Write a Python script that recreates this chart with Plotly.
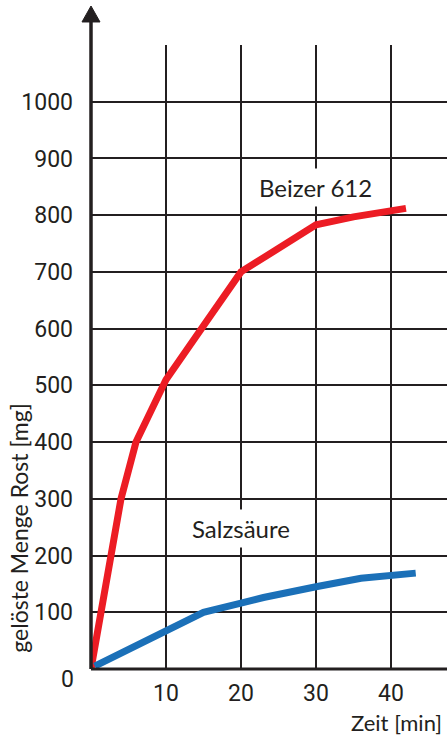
import plotly.graph_objects as go

# Data
beizer_x = [0, 4, 6, 10, 15, 20, 30, 35, 42]
beizer_y = [0, 300, 400, 510, 605, 700, 783, 797, 812]
salz_x = [0.5, 5, 10, 15, 20, 23, 30, 36, 43.3]
salz_y = [5, 35, 67, 100, 116, 126, 145, 160, 169]
x_ticks = [10, 20, 30, 40]
y_ticks = [100, 200, 300, 400, 500, 600, 700, 800, 900, 1000]

TICKFONT = "Liberation Sans Narrow, Arial Narrow, Roboto, sans-serif"
LABELFONT = "Lato, Noto Sans, sans-serif"
INK = "#231f20"

fig = go.Figure()
fig.add_trace(go.Scatter(x=beizer_x, y=beizer_y, mode="lines",
                         line=dict(color="#ec1c24", width=7), cliponaxis=False,
                         name="Beizer 612", showlegend=False))
fig.add_trace(go.Scatter(x=salz_x, y=salz_y, mode="lines",
                         line=dict(color="#1b70b8", width=7), cliponaxis=False,
                         name="Salzsäure", showlegend=False))

fig.update_layout(
    width=447, height=740,
    margin=dict(l=91, r=0, t=45, b=71),
    paper_bgcolor="white", plot_bgcolor="white",
    xaxis=dict(range=[0, 47.47], tickvals=x_ticks, showgrid=True,
               gridcolor=INK, gridwidth=2, zeroline=False, showline=False,
               tickfont=dict(family=TICKFONT, size=23, color=INK),
               ticklabelstandoff=8, fixedrange=True),
    yaxis=dict(range=[0, 1100], tickvals=y_ticks, showgrid=True,
               gridcolor=INK, gridwidth=2, zeroline=False, showline=False,
               tickfont=dict(family=TICKFONT, size=23, color=INK),
               ticklabelstandoff=17, fixedrange=True),
    showlegend=False,
)

# axes lines and arrow
fig.add_shape(type="line", xref="paper", yref="paper", x0=0, x1=1, y0=0, y1=0,
              line=dict(color=INK, width=3))
fig.add_shape(type="line", xref="paper", yref="paper", x0=0, x1=0, y0=0, y1=1.04,
              line=dict(color=INK, width=3.5))
fig.add_shape(type="path", xref="paper", yref="paper",
              path="M -0.0253,1.0369 L 0.0253,1.0369 L 0,1.0625 Z",
              fillcolor=INK, line=dict(color=INK, width=1))

fig.add_annotation(text="0", xref="paper", yref="paper", x=-0.065, y=-0.0176,
                   showarrow=False, xanchor="center", yanchor="middle",
                   font=dict(family=TICKFONT, size=23, color=INK))
fig.add_annotation(text="gelöste Menge Rost [mg]", xref="paper", yref="paper",
                   x=-0.203, y=0.226, textangle=-90, showarrow=False,
                   xanchor="center", yanchor="middle",
                   font=dict(family=LABELFONT, size=23, color=INK))
fig.add_annotation(text="Zeit [min]", xref="paper", yref="paper",
                   x=0.992, y=-0.085, showarrow=False,
                   xanchor="right", yanchor="middle",
                   font=dict(family=LABELFONT, size=22, color=INK))
fig.add_annotation(text="Beizer 612", x=30, y=848, showarrow=False,
                   bgcolor="white", borderpad=4,
                   font=dict(family=LABELFONT, size=24, color=INK))
fig.add_annotation(text="Salzsäure", x=20, y=247, showarrow=False,
                   bgcolor="white", borderpad=4,
                   font=dict(family=LABELFONT, size=24, color=INK))

fig.write_html("out.html", config={"displayModeBar": False},
               post_script="document.body.style.margin='0';document.body.style.overflow='hidden';")
